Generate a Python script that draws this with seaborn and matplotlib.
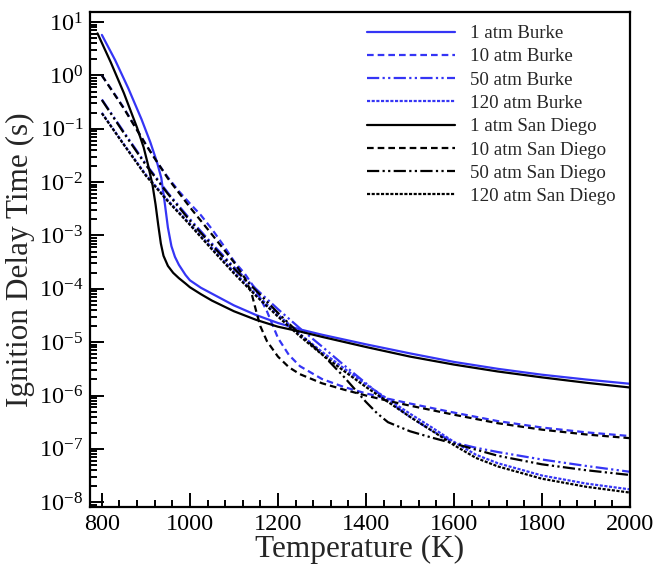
import numpy as np
import pandas as pd
import matplotlib
matplotlib.use('Agg')
import matplotlib.pyplot as plt
import seaborn as sns
from matplotlib.ticker import MultipleLocator, LogLocator, NullFormatter

# temperature (K) and log10 of ignition delay (s)
t_burke_1 = [800, 830, 860, 890, 910, 925, 935, 943, 950, 958, 966, 975, 990, 1000, 1025, 1050,
             1100, 1150, 1200, 1250, 1300, 1400, 1500, 1600, 1700, 1800, 1900, 2000]
lg_burke_1 = [0.76, 0.29, -0.24, -0.82, -1.25, -1.62, -1.92, -2.40, -2.85, -3.20, -3.40, -3.55, -3.74,
              -3.84, -3.98, -4.09, -4.31, -4.49, -4.64, -4.76, -4.86, -5.04, -5.21, -5.37, -5.50,
              -5.61, -5.70, -5.78]

t_sd_1 = [790, 820, 850, 880, 895, 905, 915, 922, 928, 934, 940, 950, 962, 975, 990, 1000, 1025,
          1050, 1100, 1150, 1200, 1250, 1300, 1400, 1500, 1600, 1700, 1800, 1900, 2000]
lg_sd_1 = [0.79, 0.25, -0.33, -0.98, -1.35, -1.68, -2.05, -2.42, -2.80, -3.15, -3.38, -3.57, -3.70,
           -3.80, -3.90, -3.97, -4.10, -4.22, -4.42, -4.58, -4.71, -4.80, -4.90, -5.09, -5.27,
           -5.42, -5.55, -5.66, -5.76, -5.85]

t_burke_10 = [800, 825, 850, 875, 900, 925, 950, 975, 1000, 1025, 1050, 1075, 1100, 1125, 1150,
              1175, 1200, 1225, 1250, 1300, 1350, 1400, 1450, 1500, 1600, 1700, 1800, 1900, 2000]
lg_burke_10 = [0.00, -0.30, -0.61, -0.95, -1.29, -1.62, -1.91, -2.17, -2.40, -2.62, -2.88, -3.17,
               -3.48, -3.72, -4.02, -4.42, -4.92, -5.24, -5.45, -5.69, -5.84, -5.96, -6.06, -6.15,
               -6.32, -6.48, -6.60, -6.69, -6.76]

t_sd_10 = [800, 850, 900, 950, 1000, 1050, 1100, 1125, 1140, 1150, 1160, 1175, 1200, 1225, 1250,
           1300, 1350, 1400, 1450, 1500, 1600, 1700, 1800, 1900, 2000]
lg_sd_10 = [0.00, -0.62, -1.30, -1.93, -2.47, -2.98, -3.50, -3.80, -4.08, -4.40, -4.70, -4.98,
            -5.27, -5.47, -5.60, -5.77, -5.89, -6.00, -6.10, -6.19, -6.36, -6.52, -6.64, -6.73, -6.80]

t_burke_50 = [800, 850, 900, 950, 1000, 1050, 1100, 1150, 1200, 1250, 1300, 1350, 1400, 1450, 1500,
              1550, 1600, 1650, 1700, 1800, 1900, 2000]
lg_burke_50 = [-0.45, -1.06, -1.66, -2.20, -2.69, -3.15, -3.59, -4.00, -4.38, -4.74, -5.08, -5.43,
               -5.77, -6.10, -6.40, -6.66, -6.88, -6.98, -7.06, -7.20, -7.32, -7.43]

t_sd_50 = [800, 850, 900, 950, 1000, 1050, 1100, 1150, 1200, 1250, 1300, 1350, 1400, 1425, 1450,
           1500, 1550, 1600, 1700, 1800, 1900, 2000]
lg_sd_50 = [-0.46, -1.08, -1.68, -2.22, -2.72, -3.18, -3.62, -4.03, -4.45, -4.85, -5.22, -5.65,
            -6.12, -6.33, -6.50, -6.67, -6.79, -6.90, -7.13, -7.29, -7.40, -7.49]

t_burke_120 = [800, 850, 900, 950, 1000, 1050, 1100, 1150, 1200, 1250, 1300, 1350, 1400, 1450, 1500,
               1550, 1600, 1650, 1700, 1800, 1900, 2000]
lg_burke_120 = [-0.70, -1.29, -1.86, -2.34, -2.78, -3.23, -3.68, -4.10, -4.48, -4.85, -5.18, -5.49,
                -5.79, -6.07, -6.34, -6.60, -6.87, -7.11, -7.27, -7.50, -7.65, -7.76]

t_sd_120 = [800, 850, 900, 950, 1000, 1050, 1100, 1150, 1200, 1250, 1300, 1350, 1400, 1450, 1500,
            1550, 1600, 1650, 1700, 1800, 1900, 2000]
lg_sd_120 = [-0.71, -1.30, -1.88, -2.36, -2.80, -3.26, -3.71, -4.13, -4.52, -4.89, -5.23, -5.54,
             -5.84, -6.12, -6.40, -6.66, -6.93, -7.17, -7.33, -7.56, -7.71, -7.82]

names = ['1 atm Burke', '10 atm Burke', '50 atm Burke', '120 atm Burke',
         '1 atm San Diego', '10 atm San Diego', '50 atm San Diego', '120 atm San Diego']
temps = [t_burke_1, t_burke_10, t_burke_50, t_burke_120, t_sd_1, t_sd_10, t_sd_50, t_sd_120]
logs = [lg_burke_1, lg_burke_10, lg_burke_50, lg_burke_120, lg_sd_1, lg_sd_10, lg_sd_50, lg_sd_120]
y_decades = list(range(-8, 2))

frames = []
for n, t, lg in zip(names, temps, logs):
    frames.append(pd.DataFrame({'T': t, 'tau': np.power(10.0, lg), 'case': n}))
df = pd.concat(frames, ignore_index=True)

blue = '#3535f5'
palette = {n: (blue if 'Burke' in n else 'black') for n in names}
dash_by_p = {'1': '', '10': (3, 1.8), '50': (5.5, 1.5, 1, 1.5, 1, 1.5), '120': (1.4, 0.7)}
dashes = {n: dash_by_p[n.split()[0]] for n in names}

sns.set_style('white')
plt.rcParams['font.family'] = ['Liberation Serif', 'DejaVu Serif']
plt.rcParams['mathtext.fontset'] = 'custom'
plt.rcParams['mathtext.rm'] = 'Liberation Serif'

fig = plt.figure(figsize=(6.56, 5.66), dpi=100)
ax = fig.add_axes([90 / 656, 1 - 507 / 566, 540 / 656, 495 / 566])

sns.lineplot(data=df, x='T', y='tau', hue='case', style='case', hue_order=names,
             style_order=names, palette=palette, dashes=dashes, estimator=None,
             sort=False, linewidth=1.6, ax=ax)

ax.set_yscale('log')
ax.set_xlim(773, 2000)
ax.set_ylim(10 ** -8.09, 10 ** 1.19)
ax.xaxis.set_major_locator(MultipleLocator(200))
ax.xaxis.set_minor_locator(MultipleLocator(40))
ax.set_yticks([10.0 ** k for k in y_decades])
ax.yaxis.set_minor_locator(LogLocator(base=10, subs=np.arange(2, 10), numticks=20))
ax.yaxis.set_minor_formatter(NullFormatter())

ax.tick_params(which='both', direction='in', bottom=True, left=True, top=False, right=False,
               labelsize=17.5, width=1.4, colors='black')
ax.tick_params(which='major', length=10, pad=5)
ax.tick_params(which='minor', length=5, labelleft=False, labelbottom=False)
for s in ax.spines.values():
    s.set_linewidth(1.6)
    s.set_color('black')

ax.set_xlabel('Temperature (K)', fontsize=22.5, labelpad=0)
ax.set_ylabel('Ignition Delay Time (s)', fontsize=22.5, labelpad=3)

handles, labels = ax.get_legend_handles_labels()
ax.legend(handles, labels, loc='upper left', bbox_to_anchor=(367 / 656, 1 - 25 / 566),
          bbox_transform=fig.transFigure, frameon=False, fontsize=13.6,
          handlelength=4.65, handletextpad=0.8, labelspacing=0.32, borderpad=0,
          borderaxespad=0)

fig.savefig('out.png', dpi=100)
